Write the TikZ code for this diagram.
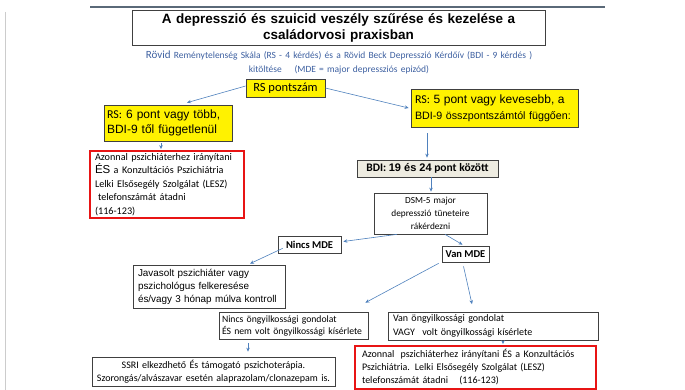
\documentclass[tikz,border=0pt]{standalone}
\usepackage{fontspec}
\setmainfont{Carlito}
\newfontfamily\arialfont{Liberation Sans}
\usetikzlibrary{arrows.meta}
\hyphenpenalty=10000
\exhyphenpenalty=10000
\definecolor{arrowblue}{RGB}{79,129,189}
\definecolor{introblue}{RGB}{60,95,160}
\definecolor{boxline}{RGB}{64,64,64}
\definecolor{bdifill}{RGB}{238,236,225}
\definecolor{alarmred}{RGB}{232,20,20}
\definecolor{rulegray}{RGB}{90,105,120}
\begin{document}
\begin{tikzpicture}[x=1pt, y=-1pt,
    arr/.style={draw=arrowblue, line width=0.6pt, -{Stealth[length=4pt, width=3.5pt]}},
    plainbox/.style={draw=boxline, line width=0.7pt, inner xsep=4pt, inner ysep=0pt},
    yellowbox/.style={plainbox, fill=yellow},
    alarmbox/.style={draw=alarmred, line width=1.8pt, inner xsep=5pt, inner ysep=0pt}]
            \useasboundingbox (0, 0) rectangle (685, 390);
            \draw (90, 7)--(605, 7)[rulegray, line width=1.2pt];
            \draw (5, 12)--(5, 390)[black!20, line width=0.8pt];
            \draw (338.5, 27.5)node(title)[plainbox, minimum width=413pt, minimum height=35pt, text width=405pt, align=center, font=\arialfont\bfseries\fontsize{13.5}{16}\selectfont]{A depresszió és szuicid veszély szűrése és kezelése a\\családorvosi praxisban};
            \draw (339, 62)node(intro)[text width=470pt, align=center, inner sep=0pt, introblue, font=\fontsize{9.5}{14}\selectfont]{{\fontsize{11}{14}\selectfont Rövid} Reménytelenség Skála (RS - 4 kérdés) és a Rövid Beck Depresszió Kérdőív (BDI - 9 kérdés )\\kitöltése \quad (MDE = major depressziós epizód)};
            \draw (285.5, 88)node(rs)[yellowbox, minimum width=79pt, minimum height=18pt, font=\fontsize{12.5}{15}\selectfont]{RS pontszám};
            \draw (168, 123)node(many)[yellowbox, inner xsep=3pt, minimum width=128pt, minimum height=36pt, text width=122pt, align=left, font=\arialfont\fontsize{12}{15.5}\selectfont]{{\normalfont RS:} 6 pont vagy több,\\BDI-9 től függetlenül};
            \draw (494.5, 108)node(few)[yellowbox, minimum width=167pt, minimum height=38pt, text width=159pt, align=left, font=\arialfont\fontsize{10.7}{16}\selectfont]{{\fontsize{12}{16}\selectfont{\normalfont RS:} 5 pont vagy kevesebb, a}\\BDI-9 összpontszámtól függően:};
            \draw (167, 184.5)node(warnleft)[alarmbox, minimum width=154pt, minimum height=67pt, text width=144pt, align=left, font=\fontsize{10.2}{13.5}\selectfont]{Azonnal pszichiáterhez irányítani\\{\arialfont\fontsize{11.5}{13.5}\selectfont ÉS} a Konzultációs Pszichiátria\\Lelki Elsősegély Szolgálat (LESZ)\\\hspace*{3pt}telefonszámát átadni\\(116-123)};
            \draw (427.5, 168.5)node(bdi)[plainbox, fill=bdifill, minimum width=141pt, minimum height=17pt, font=\bfseries\fontsize{11.5}{13}\selectfont]{BDI: {\arialfont\fontsize{11}{13}\selectfont 19 és 24} pont között};
            \draw (430.5, 213.5)node(dsm)[plainbox, minimum width=113pt, minimum height=41pt, text width=105pt, align=center, font=\fontsize{9.3}{13}\selectfont]{DSM-5 major\\depresszió tüneteire\\rákérdezni};
            \draw (309.5, 244.5)node(nomde)[plainbox, minimum width=63pt, minimum height=17pt, font=\bfseries\fontsize{10.5}{12}\selectfont]{Nincs MDE};
            \draw (465.5, 254)node(yesmde)[plainbox, inner xsep=2pt, minimum width=47pt, minimum height=16pt, font=\bfseries\fontsize{10.5}{12}\selectfont]{Van MDE};
            \draw (209, 286.5)node(advice)[plainbox, inner xsep=5pt, minimum width=152pt, minimum height=43pt, text width=142pt, align=left, font=\arialfont\fontsize{9.9}{13}\selectfont]{Javasolt pszichiáter vagy\\pszichológus felkeresése\\és/vagy 3 hónap múlva kontroll};
            \draw (293.5, 326)node(nothought)[plainbox, inner xsep=3pt, minimum width=149pt, minimum height=27pt, text width=143pt, align=left, font=\fontsize{9.7}{12.5}\selectfont]{Nincs öngyilkossági gondolat\\ÉS nem volt öngyilkossági kísérlete};
            \draw (493, 326)node(thought)[plainbox, inner xsep=5pt, minimum width=210pt, minimum height=28pt, text width=200pt, align=left, font=\fontsize{10}{14}\selectfont]{Van öngyilkossági gondolat\\VAGY\hspace{4pt} volt öngyilkossági kísérlete};
            \draw (213.5, 371.5)node(ssri)[plainbox, minimum width=243pt, minimum height=29pt, text width=235pt, align=center, font=\fontsize{10}{12.5}\selectfont]{SSRI elkezdhető És támogató pszichoterápia.\\Szorongás/alvászavar esetén alaprazolam/clonazepam is.};
            \draw (475.5, 367.5)node(warnright)[alarmbox, inner xsep=7pt, minimum width=241pt, minimum height=43pt, text width=227pt, align=left, font=\fontsize{10}{13}\selectfont]{Azonnal\hspace{3pt} pszichiáterhez irányítani ÉS a Konzultációs\\Pszichiátria. Lelki Elsősegély Szolgálat (LESZ)\\telefonszámát átadni\hspace{8pt} (116-123)};
            \draw ([yshift=2pt]rs.west)--([xshift=19pt, yshift=2pt]many.north)[arr];
            \draw (rs.east)--([xshift=-2pt]few.west)[arr];
            \draw ([xshift=-7pt, yshift=-2pt]many.south)--([xshift=-6pt, yshift=1pt]warnleft.north)[arr];
            \draw ([xshift=-67.5pt, yshift=-6pt]few.south)--([xshift=-0.5pt, yshift=2pt]bdi.north)[arr];
            \draw ([xshift=3.5pt]bdi.south)--([xshift=0.5pt, yshift=1pt]dsm.north)[arr];
            \draw ([xshift=-33.5pt]dsm.south)--([xshift=2pt, yshift=3pt]nomde.east)[arr];
            \draw ([xshift=14.5pt]dsm.south)--([xshift=-3pt, yshift=1pt]yesmde.north)[arr];
            \draw ([xshift=5pt, yshift=5pt]nomde.south west)--([xshift=41pt, yshift=1pt]advice.north)[arr];
            \draw ([xshift=-3pt, yshift=-1pt]yesmde.south west)--([xshift=-3pt, yshift=9.5pt]nothought.north east)[arr];
            \draw ([xshift=-2pt, yshift=-4pt]yesmde.south)--([xshift=-21pt, yshift=7.5pt]thought.north)[arr];
            \draw ([xshift=-45.5pt, yshift=-3pt]nothought.south)--([xshift=34.5pt, yshift=5pt]ssri.north)[arr];
            \draw ([xshift=10pt, yshift=-1pt]thought.south)--([xshift=27.5pt, yshift=1pt]warnright.north)[arr];
        \end{tikzpicture}
\end{document}
